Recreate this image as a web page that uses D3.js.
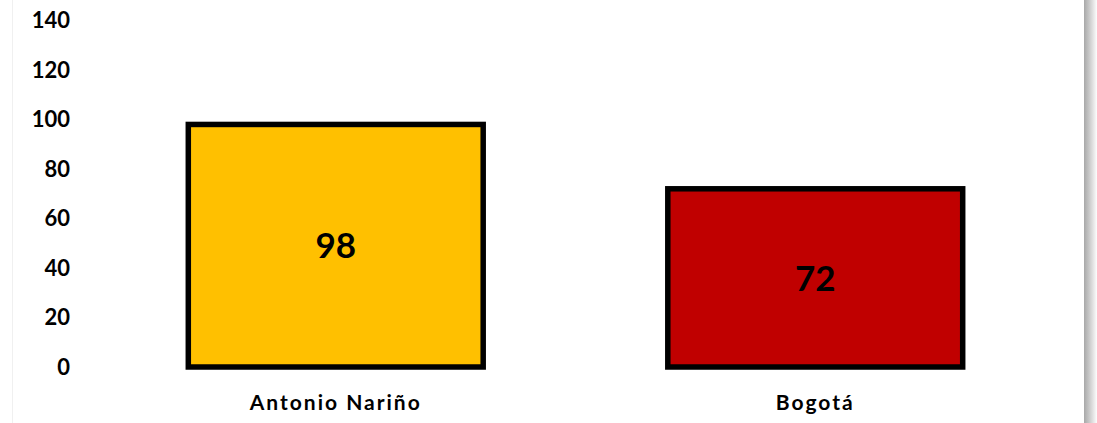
<!DOCTYPE html>
<html><head><meta charset="utf-8">
<script src="https://cdn.jsdelivr.net/npm/d3@7"></script>
<style>body{margin:0;background:#fff}svg{display:block}</style>
</head><body>
<svg id="c" width="1097" height="423"></svg>
<script>
const categories = ["Antonio Nariño", "Bogotá"];
const values = [98, 72];
const colors = ["#FFC000", "#C00000"];
const yTicks = [0, 20, 40, 60, 80, 100, 120, 140];

const svg = d3.select("#c");
const W = 1097, H = 423;
const font = "Lato, 'Open Sans', sans-serif";

// frame shadow
const defs = svg.append("defs");
const g1 = defs.append("linearGradient").attr("id","sh").attr("x1","0").attr("x2","1").attr("y1","0").attr("y2","0");
g1.append("stop").attr("offset","0").attr("stop-color","#a8a8a8");
g1.append("stop").attr("offset","0.35").attr("stop-color","#c4c4c4");
g1.append("stop").attr("offset","1").attr("stop-color","#fdfdfd");
svg.append("rect").attr("x",1084).attr("y",0).attr("width",13).attr("height",H).attr("fill","url(#sh)");
svg.append("line").attr("x1",12.5).attr("x2",12.5).attr("y1",0).attr("y2",H).attr("stroke","#f0f0f0");

const y = d3.scaleLinear().domain([0,140]).range([367, 20.5]);
const x = d3.scaleBand().domain(categories).range([96, 1055]).paddingInner(0.385).paddingOuter(0.1925);

const yAxis = svg.append("g").attr("transform","translate(78,0)")
  .call(d3.axisLeft(y).tickValues(yTicks).tickSize(0).tickPadding(8));
yAxis.select(".domain").remove();
yAxis.selectAll("text").attr("font-family",font).attr("font-weight","bold").attr("font-size","22px").attr("fill","#000");

const xAxis = svg.append("g").attr("transform","translate(0,367)")
  .call(d3.axisBottom(x).tickSize(0).tickPadding(28));
xAxis.select(".domain").remove();
xAxis.selectAll("text").attr("font-family",font).attr("font-weight","bold").attr("font-size","21px").attr("fill","#000").attr("letter-spacing","2px");

svg.selectAll("rect.bar").data(values).join("rect").attr("class","bar")
  .attr("x",(d,i)=>x(categories[i]))
  .attr("width",x.bandwidth())
  .attr("y",d=>y(d))
  .attr("height",d=>y(0)-y(d))
  .attr("fill",(d,i)=>colors[i])
  .attr("stroke","#000").attr("stroke-width",5.5);

svg.selectAll("text.lbl").data(values).join("text").attr("class","lbl")
  .attr("x",(d,i)=>x(categories[i])+x.bandwidth()/2)
  .attr("y",d=>(y(d)+y(0))/2)
  .attr("dy","0.36em")
  .attr("text-anchor","middle")
  .attr("font-family",font).attr("font-weight","bold").attr("font-size","35px").attr("fill","#000")
  .text(d=>d);
</script>
</body></html>
